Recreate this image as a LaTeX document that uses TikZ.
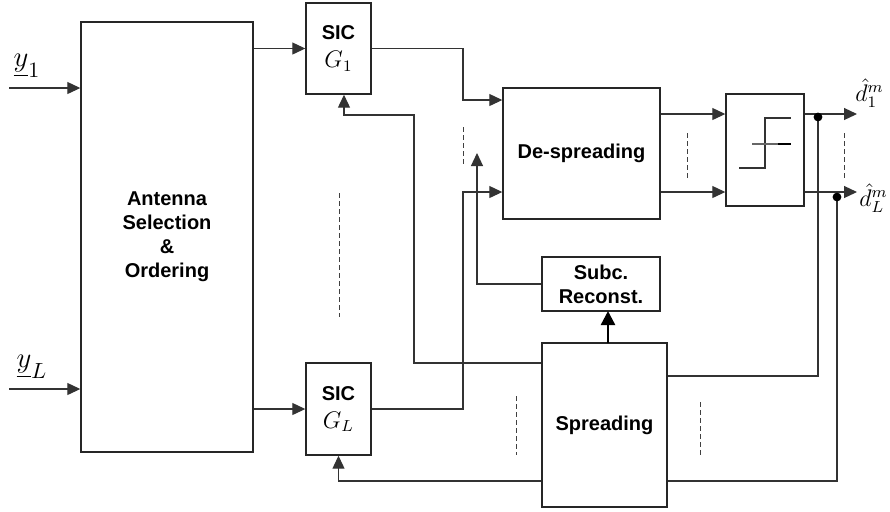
\documentclass[tikz,border=0pt]{standalone}
\usepackage{fontspec}
\setsansfont{Liberation Sans}
\usetikzlibrary{arrows.meta, positioning}

\begin{document}
\begin{tikzpicture}[x=0.5pt, y=-0.5pt,
    blk/.style={draw=black!85, line width=0.7pt, inner sep=0pt, align=center,
        font=\sffamily\bfseries\fontsize{10}{12}\selectfont},
    wire/.style={draw=black!80, line width=0.6pt},
    arr/.style={wire, -{Triangle[length=6.5pt,width=6pt]}},
    vdash/.style={black!75, line width=0.5pt, dash pattern=on 2.5pt off 1.5pt}]
    \useasboundingbox (0,0) rectangle (890,511);
    % Blocks
    \node[blk, minimum width=86pt, minimum height=215pt] (ant) at (167,237) {Antenna\\Selection\\\&\\Ordering};
    \node[blk, minimum width=32.5pt, minimum height=45.5pt] (sic1) at (338.5,48.5) {SIC\\[2pt]\fontsize{12}{12}\selectfont$G_1$};
    \node[blk, minimum width=32.5pt, minimum height=46pt] (sicL) at (338.5,409) {SIC\\[2pt]\fontsize{12}{12}\selectfont$G_L$};
    \node[blk, minimum width=78.5pt, minimum height=65.5pt] (desp) at (581.5,153.5) {De-spreading};
    \node[blk, minimum width=39pt, minimum height=56pt] (dec) at (765,150) {};
    \node[blk, minimum width=59pt, minimum height=27pt] (subc) at (601,284) {Subc.\\Reconst.};
    \node[blk, minimum width=62.5pt, minimum height=82pt] (spr) at (604.5,425) {Spreading};
    % Hard decision
    \draw[wire] (739,168) -- (765,168) -- (765,118) -- (791,118);
    \draw[wire, black!60] (752,144) -- (778,144);
    \draw[black, line width=1pt] (778,144) -- (791,144);
    % Inputs
    \coordinate (y1in) at (9,88);
    \coordinate (yLin) at (9,389);
    \node (y1lab) at (27,66) {\fontsize{15}{15}\selectfont$\underline{y}_1$};
    \node (yLlab) at (32,367) {\fontsize{15}{15}\selectfont$\underline{y}_L$};
    \draw[arr] (y1in) -- (y1in -| ant.west);
    \draw[arr] (yLin) -- (yLin -| ant.west);
    \draw[arr] (ant.east |- sic1) -- (sic1.west);
    \draw[arr] (ant.east |- sicL) -- (sicL.west);
    % SIC outputs to de-spreading
    \coordinate (ja) at (463,100);
    \coordinate (jb) at (463,192);
    \draw[arr] (sic1.east) -| (ja) -- (ja -| desp.west);
    \draw[arr] (sicL.east) -| (jb) -- (jb -| desp.west);
    % De-spreading to decision and outputs
    \coordinate (r1) at (0,114);
    \coordinate (r2) at (0,192);
    \draw[arr] (desp.east |- r1) -- (dec.west |- r1);
    \draw[arr] (desp.east |- r2) -- (dec.west |- r2);
    \coordinate (d1) at (857,114);
    \coordinate (dL) at (857,192);
    \draw[arr] (dec.east |- r1) -- (d1);
    \draw[arr] (dec.east |- r2) -- (dL);
    \node[anchor=south west, inner sep=0pt] (d1lab) at ([xshift=-1pt,yshift=3pt]d1) {\fontsize{12}{12}\selectfont$\hat{d}_1^m$};
    \node[anchor=west, inner sep=0pt] (dLlab) at ([xshift=1pt,yshift=-3pt]dL) {\fontsize{12}{12}\selectfont$\hat{d}_L^m$};
    % Decisions fed back to spreading
    \coordinate (t1) at (818,114);
    \coordinate (t2) at (837,192);
    \draw[wire] (spr.east |- 0,376) -| (t1);
    \draw[wire] (spr.east |- 0,481) -| (t2);
    \fill (818,117) circle (2.2pt);
    \fill (837,197) circle (2.2pt);
    % Spreading back to SIC and reconstruction
    \draw[arr] (spr.west |- 0,363) -| (414,115) -| ([xshift=2.75pt]sic1.south);
    \draw[arr] (spr.west |- 0,481) -| (sicL.south);
    \draw[black, line width=1.2pt, -{Triangle[length=7pt,width=7pt]}] (608,343) -- (608,311);
    \draw[arr] (subc.west) -| (477,153);
    % Dashes
    \draw[vdash] (339,193) -- (339,317);
    \draw[vdash] (463,127) -- (463,167);
    \draw[vdash] (687,133) -- (687,179);
    \draw[vdash] (844,133) -- (844,180);
    \draw[vdash] (516,396) -- (516,455);
    \draw[vdash] (700,402) -- (700,455);
\end{tikzpicture}
\end{document}
